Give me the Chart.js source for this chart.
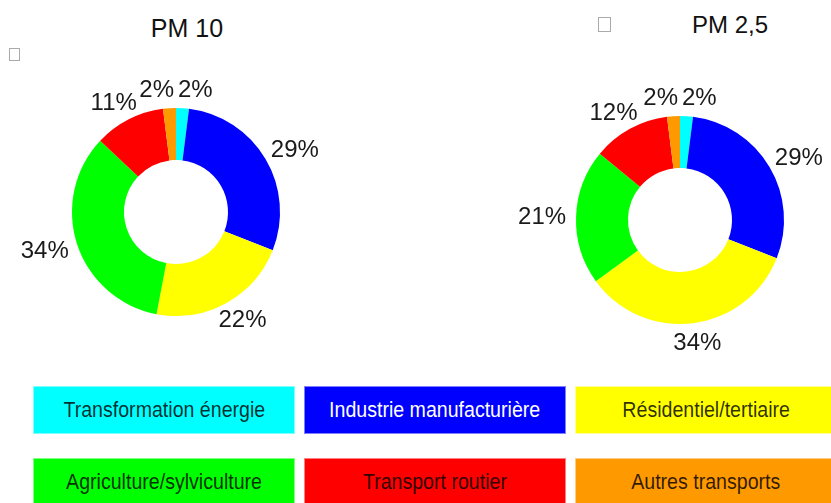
<!DOCTYPE html>
<html>
<head>
<meta charset="utf-8">
<script src="https://cdn.jsdelivr.net/npm/chart.js@4.4.1/dist/chart.umd.min.js"></script>
<style>
  html, body { margin: 0; padding: 0; background: #fff; }
  #page { position: relative; width: 831px; height: 503px; overflow: hidden; font-family: "Liberation Sans", Arial, sans-serif; }
  canvas { position: absolute; }
  .title { position: absolute; width: 200px; text-align: center; color: #111; line-height: 1; }
  .tofu { position: absolute; border: 1px solid #aaa; box-sizing: border-box; }
  #legend { position: absolute; left: 33px; top: 386px; display: grid; grid-template-columns: repeat(3, 262px); column-gap: 9px; row-gap: 24px; }
  .item { height: 48px; box-sizing: border-box; border: 1px solid; display: flex; align-items: center; justify-content: center;
          font-size: 22px; color: rgba(0,0,0,0.82); white-space: nowrap; }
  .item span { display: inline-block; transform: scaleX(0.89); }
</style>
</head>
<body>
<div id="page">
  <div class="title" style="left:87px; top:16px; font-size:25px;">PM 10</div>
  <div class="title" style="left:630px; top:13px; font-size:24px;">PM 2,5</div>
  <div class="tofu" style="left:9px; top:48px; width:11px; height:13px;"></div>
  <div class="tofu" style="left:598px; top:17px; width:13px; height:15px;"></div>
  <canvas id="pm10" width="360" height="310" style="left:0; top:60px;"></canvas>
  <canvas id="pm25" width="361" height="310" style="left:470px; top:60px;"></canvas>
  <div id="legend"></div>
</div>
<script>
// sectors, in clockwise order from the top
const sectors = ['Transformation énergie', 'Industrie manufacturière', 'Résidentiel/tertiaire',
                 'Agriculture/sylviculture', 'Transport routier', 'Autres transports'];
const pm10Share = [2, 29, 22, 34, 11, 2];
const pm25Share = [2, 29, 34, 21, 12, 2];

const sectorColors = ['#00FFFF', '#0000FF', '#FFFF00', '#00FF00', '#FF0000', '#FF9900'];
const sectorBorders = ['#80FFFF', '#8080FF', '#FFFF99', '#80FF80', '#FF8080', '#FFCC80'];

// percent labels outside the ring, pushed apart when they collide
const outsideLabels = {
  id: 'outsideLabels',
  afterDatasetsDraw(chart, args, opts) {
    const ctx = chart.ctx;
    const meta = chart.getDatasetMeta(0);
    const values = chart.data.datasets[0].data;
    ctx.save();
    ctx.font = opts.size + 'px "Liberation Sans", Arial, sans-serif';
    const boxes = meta.data.map((arc, i) => {
      const { x, y, startAngle, endAngle, outerRadius } =
        arc.getProps(['x', 'y', 'startAngle', 'endAngle', 'outerRadius'], true);
      const mid = (startAngle + endAngle) / 2;
      const dx = Math.cos(mid), dy = Math.sin(mid);
      const text = values[i] + '%';
      const w = ctx.measureText(text).width;
      const h = opts.size * 0.75;
      const r = outerRadius + opts.gap;
      return { text, w, h, cx: x + dx * r + dx * w / 2, cy: y + dy * r + dy * h / 2 };
    });
    for (let i = 0; i < boxes.length; i++) {
      const a = boxes[i], b = boxes[(i + 1) % boxes.length];
      const overX = (a.w + b.w) / 2 + opts.spacing - Math.abs(a.cx - b.cx);
      const overY = (a.h + b.h) / 2 - Math.abs(a.cy - b.cy);
      if (overX > 0 && overY > 0) {
        const s = a.cx < b.cx ? -1 : 1;
        a.cx += s * overX / 2;
        b.cx -= s * overX / 2;
      }
    }
    ctx.fillStyle = '#1a1a1a';
    ctx.textAlign = 'center';
    ctx.textBaseline = 'middle';
    boxes.forEach(b => ctx.fillText(b.text, b.cx, b.cy + 1));
    ctx.restore();
  }
};

function makeDoughnut(id, values, padding) {
  return new Chart(document.getElementById(id), {
    type: 'doughnut',
    data: {
      labels: sectors,
      datasets: [{ data: values, backgroundColor: sectorColors, borderWidth: 0 }]
    },
    options: {
      responsive: false,
      animation: false,
      cutout: '50%',
      layout: { padding },
      plugins: {
        legend: { display: false },
        tooltip: { enabled: false },
        outsideLabels: { size: 24, gap: 10, spacing: 4 }
      }
    },
    plugins: [outsideLabels]
  });
}

makeDoughnut('pm10', pm10Share, { left: 72, top: 48, right: 80, bottom: 54 });
makeDoughnut('pm25', pm25Share, { left: 106, top: 56, right: 47, bottom: 46 });

// boxed legend below the charts
const legend = document.getElementById('legend');
sectors.forEach((name, i) => {
  const el = document.createElement('div');
  el.className = 'item';
  const span = document.createElement('span');
  span.textContent = name;
  el.appendChild(span);
  el.style.background = sectorColors[i];
  el.style.borderColor = sectorBorders[i];
  if (i === 1) el.style.color = '#fff';
  legend.appendChild(el);
});
</script>
</body>
</html>
